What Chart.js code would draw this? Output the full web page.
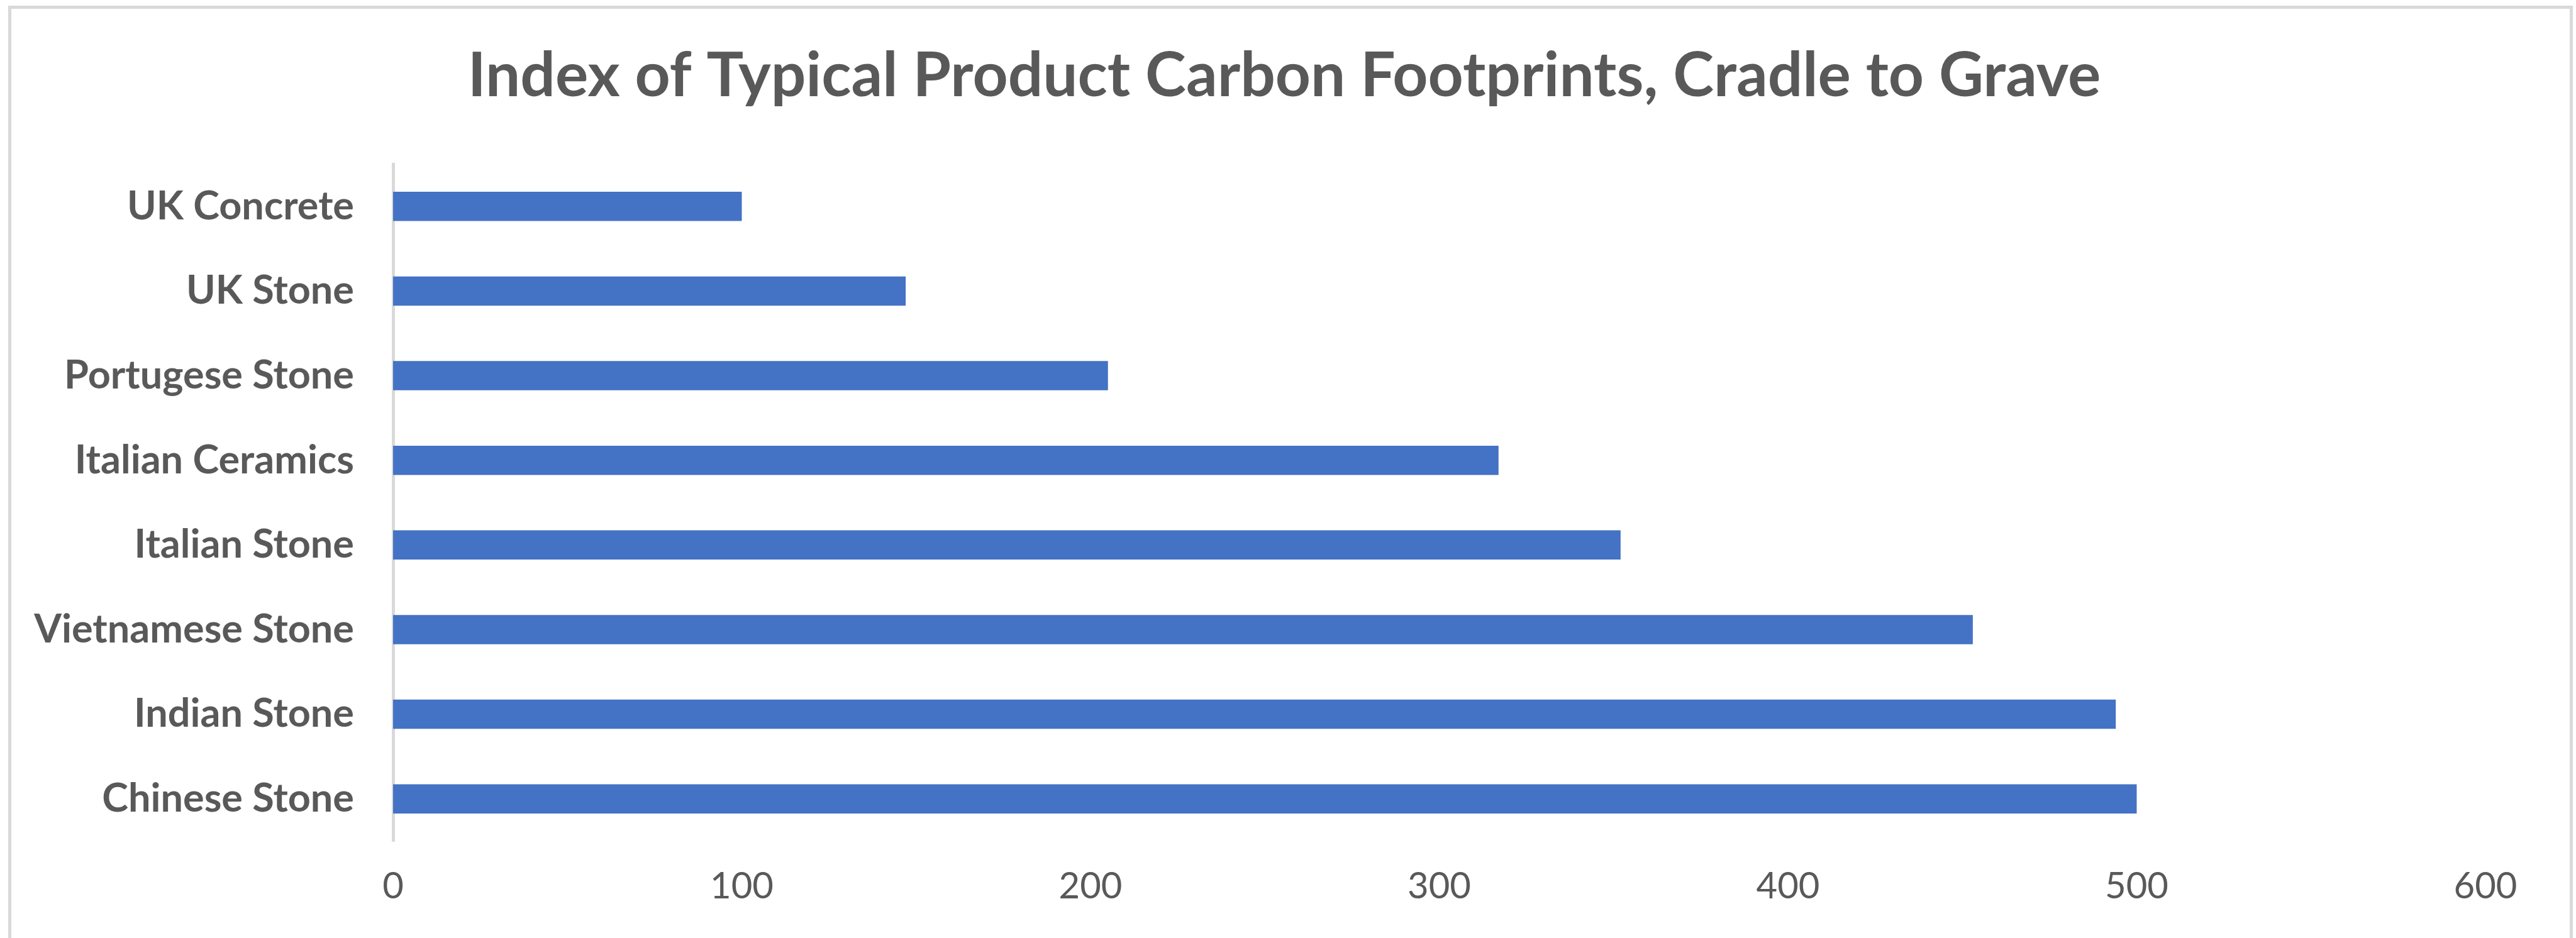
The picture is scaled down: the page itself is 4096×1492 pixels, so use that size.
<!DOCTYPE html>
<html>
<head>
<meta charset="utf-8">
<title>Index of Typical Product Carbon Footprints, Cradle to Grave</title>
<script src="https://cdn.jsdelivr.net/npm/chart.js@4/dist/chart.umd.min.js"></script>
<style>
  html, body { margin: 0; padding: 0; background: #ffffff; overflow: hidden; }
  canvas { display: block; }
</style>
</head>
<body>
<canvas id="chart" width="4096" height="1492"></canvas>
<script>
// Products, top to bottom
const categories = [
  'UK Concrete',
  'UK Stone',
  'Portugese Stone',
  'Italian Ceramics',
  'Italian Stone',
  'Vietnamese Stone',
  'Indian Stone',
  'Chinese Stone'
];
// Carbon footprint index per product
const footprintIndex = [100, 147, 205, 317, 352, 453, 494, 500];
// Value axis ticks
const axisTicks = [0, 100, 200, 300, 400, 500, 600];
const chartTitle = 'Index of Typical Product Carbon Footprints, Cradle to Grave';

const TEXT_GREY = '#595959';
const LINE_GREY = '#d9d9d9';
const BAR_BLUE = '#4472C4';

// Outer chart frame behind everything, and the centred heading on top
const framePlugin = {
  id: 'frame',
  beforeDraw(chart) {
    const ctx = chart.ctx;
    ctx.save();
    ctx.fillStyle = '#ffffff';
    ctx.fillRect(0, 0, chart.width, chart.height);
    ctx.strokeStyle = LINE_GREY;
    ctx.lineWidth = 5;
    ctx.strokeRect(15.5, 11.5, 4073, 1500);
    ctx.restore();
  },
  afterDraw(chart) {
    const ctx = chart.ctx;
    ctx.save();
    ctx.fillStyle = TEXT_GREY;
    ctx.font = 'bold 98px Lato';
    ctx.textAlign = 'center';
    ctx.textBaseline = 'alphabetic';
    ctx.fillText(chartTitle, 2042, 153);
    ctx.restore();
  }
};

new Chart(document.getElementById('chart'), {
  type: 'bar',
  data: {
    labels: categories,
    datasets: [{
      data: footprintIndex,
      backgroundColor: BAR_BLUE,
      borderWidth: 0,
      categoryPercentage: 1,
      barPercentage: 0.346
    }]
  },
  options: {
    indexAxis: 'y',
    responsive: false,
    devicePixelRatio: 1,
    animation: false,
    layout: { padding: { left: 0, right: 144, top: 261, bottom: 0 } },
    plugins: {
      legend: { display: false },
      tooltip: { enabled: false },
      title: { display: false }
    },
    scales: {
      x: {
        type: 'linear',
        min: axisTicks[0],
        max: axisTicks[axisTicks.length - 1],
        afterBuildTicks(scale) {
          scale.ticks = axisTicks.map(v => ({ value: v }));
        },
        afterFit(scale) { scale.height = 154; },
        grid: { display: false, drawTicks: false },
        border: { display: false },
        ticks: {
          color: TEXT_GREY,
          padding: 37,
          font: { family: 'Lato', size: 58, lineHeight: 1.2 }
        }
      },
      y: {
        afterFit(scale) { scale.width = 625; },
        grid: { display: false, drawTicks: false },
        border: { display: true, color: LINE_GREY, width: 5 },
        ticks: {
          color: TEXT_GREY,
          padding: 62,
          font: { family: 'Lato', size: 63, weight: 'bold', lineHeight: 1.2 }
        }
      }
    }
  },
  plugins: [framePlugin]
});
</script>
</body>
</html>
